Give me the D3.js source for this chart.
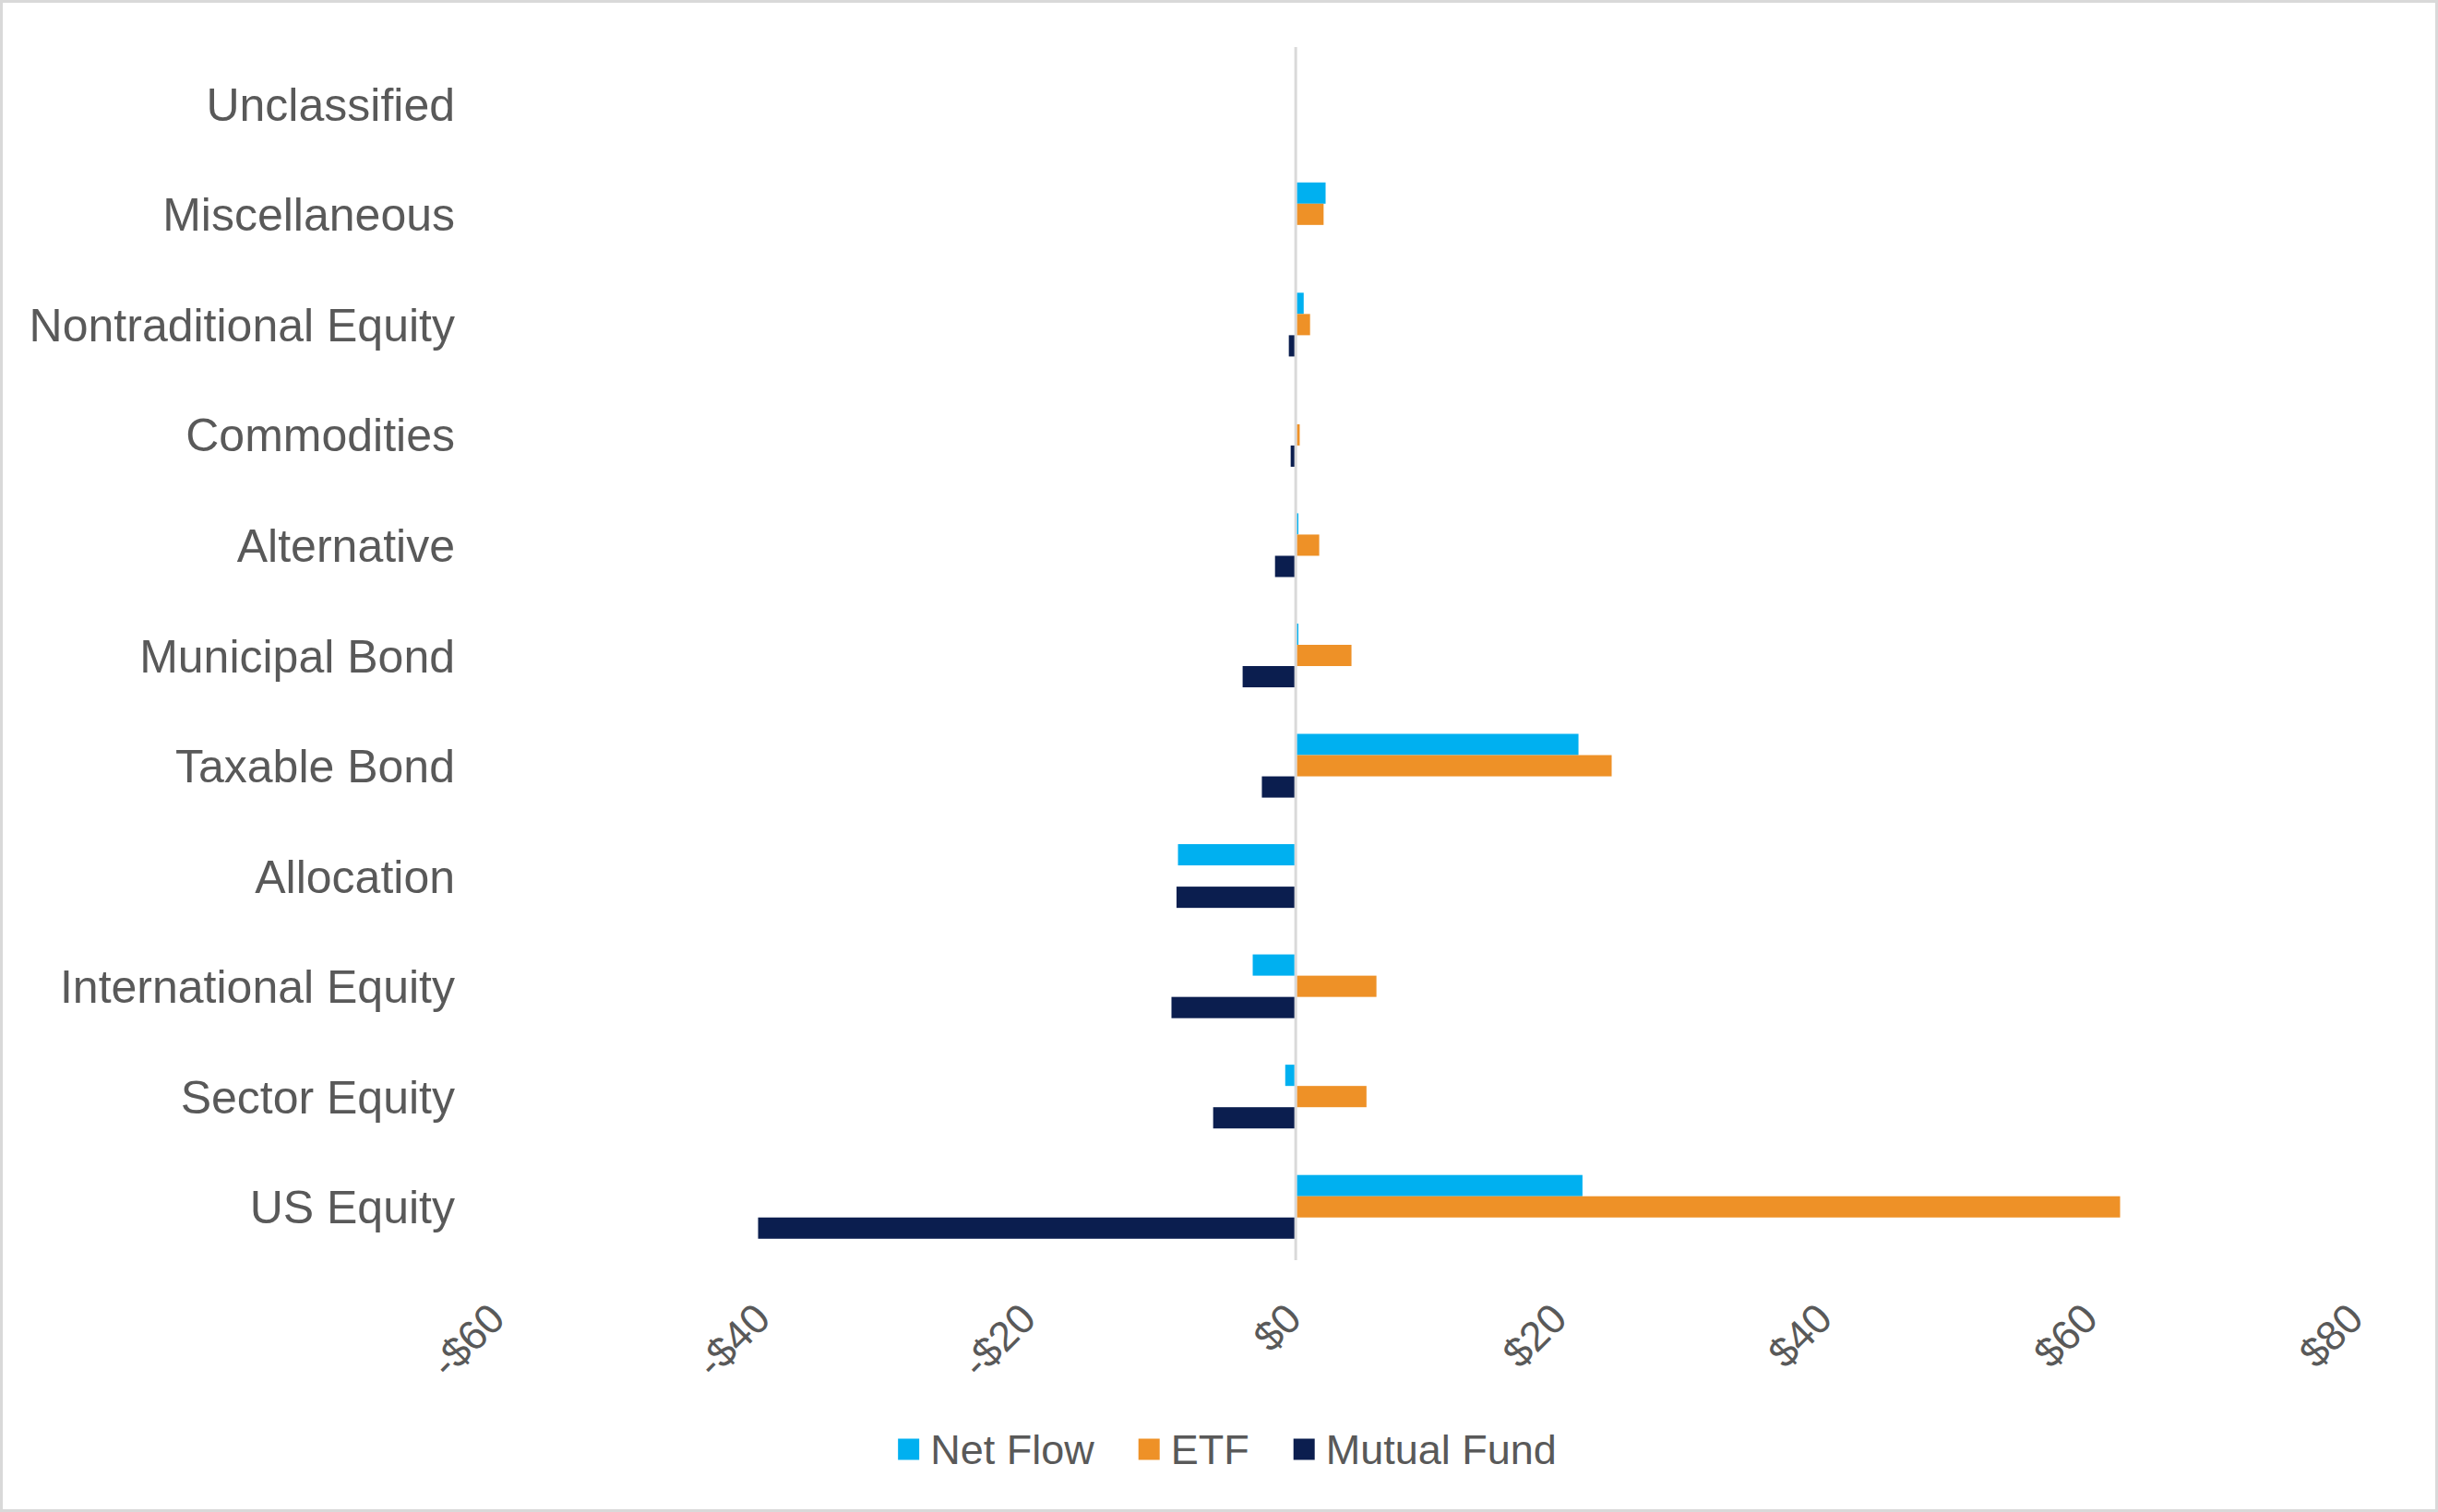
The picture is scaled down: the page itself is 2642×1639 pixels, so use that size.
<!DOCTYPE html>
<html>
<head>
<meta charset="utf-8">
<script src="https://cdn.jsdelivr.net/npm/d3@7"></script>
<style>
  html, body { margin: 0; padding: 0; background: #fff; }
  svg { display: block; font-family: "Liberation Sans", Arial, sans-serif; }
</style>
</head>
<body>
<div id="chart"></div>
<script>
// categories top to bottom
const categories = [
  'Unclassified', 'Miscellaneous', 'Nontraditional Equity', 'Commodities',
  'Alternative', 'Municipal Bond', 'Taxable Bond', 'Allocation',
  'International Equity', 'Sector Equity', 'US Equity'
];
const netFlow    = [0, 2.25, 0.6, 0, 0.2, 0.2, 21.3, -8.87, -3.24, -0.79, 21.6];
const etf        = [0, 2.1, 1.08, 0.3, 1.77, 4.2, 23.8, 0, 6.08, 5.33, 62.1];
const mutualFund = [0, 0, -0.52, -0.38, -1.56, -4.0, -2.55, -8.98, -9.36, -6.22, -40.5];
const seriesNames = ['Net Flow', 'ETF', 'Mutual Fund'];
const seriesColors = ['#00B0F0', '#EE9127', '#0B1E4F'];
const xTicks = [-60, -40, -20, 0, 20, 40, 60, 80];

const width = 2642, height = 1639;
const textColor = '#595959';

const svg = d3.select('#chart').append('svg')
  .attr('width', width)
  .attr('height', height);

// outer border
svg.append('rect')
  .attr('x', 1.5).attr('y', 1.5)
  .attr('width', width - 3).attr('height', height - 3)
  .attr('fill', '#fff')
  .attr('stroke', '#D9D9D9')
  .attr('stroke-width', 3);

const x = d3.scaleLinear().domain([-60, 80]).range([541, 2555]);
const y = d3.scaleBand().domain(categories).range([53, 1368]);
const groupH = y.bandwidth() * 0.578;
const ySub = d3.scaleBand().domain(seriesNames).range([0, groupH]);

const rows = categories.map((c, i) => ({
  cat: c,
  values: [netFlow[i], etf[i], mutualFund[i]]
}));

// zero line
svg.append('line')
  .attr('x1', x(0)).attr('x2', x(0))
  .attr('y1', 51).attr('y2', 1366)
  .attr('stroke', '#D9D9D9')
  .attr('stroke-width', 3);

const group = svg.selectAll('g.cat')
  .data(rows)
  .join('g')
  .attr('class', 'cat')
  .attr('transform', d => `translate(0,${y(d.cat) + (y.bandwidth() - groupH) / 2})`);

group.selectAll('rect')
  .data(d => d.values.map((v, i) => ({ v, s: seriesNames[i], c: seriesColors[i] })))
  .join('rect')
  .attr('x', d => x(Math.min(0, d.v)) + (d.v > 0 ? 1.5 : 0))
  .attr('y', d => ySub(d.s))
  .attr('width', d => Math.max(0, Math.abs(x(d.v) - x(0)) - 1.5))
  .attr('height', ySub.bandwidth())
  .attr('fill', d => d.c);

// category labels
svg.append('g')
  .selectAll('text')
  .data(categories)
  .join('text')
  .attr('x', 493)
  .attr('y', d => y(d) + y.bandwidth() / 2)
  .attr('dy', '0.36em')
  .attr('text-anchor', 'end')
  .attr('fill', textColor)
  .attr('font-size', '50px')
  .text(d => d);

// x axis labels (rotated)
const fmt = d => (d < 0 ? '-' : '') + '$' + Math.abs(d);
const xAxis = svg.append('g')
  .attr('transform', 'translate(0,1368)')
  .call(d3.axisBottom(x).tickValues(xTicks).tickFormat(fmt).tickSize(0));
xAxis.select('.domain').remove();
xAxis.selectAll('text')
  .attr('fill', textColor)
  .attr('font-size', '45px')
  .attr('font-family', '"Liberation Sans", Arial, sans-serif')
  .attr('text-anchor', 'end')
  .attr('dy', 0)
  .attr('y', 0)
  .attr('transform', 'translate(8,64) rotate(-45)');

// legend
const legend = svg.append('g').attr('transform', 'translate(0,1571)');
const items = legend.selectAll('g')
  .data(seriesNames)
  .join('g');
items.append('rect')
  .attr('y', -11.5)
  .attr('width', 23).attr('height', 23)
  .attr('fill', (d, i) => seriesColors[i]);
items.append('text')
  .attr('x', 35)
  .attr('dy', '0.36em')
  .attr('fill', textColor)
  .attr('font-size', '45px')
  .text(d => d);
let offs = [];
let total = 0;
items.each(function () {
  offs.push(total);
  total += 35 + this.querySelector('text').getComputedTextLength() + 48;
});
total -= 48;
const startX = 1330 - total / 2;
items.attr('transform', (d, i) => `translate(${startX + offs[i]},0)`);
</script>
</body>
</html>
